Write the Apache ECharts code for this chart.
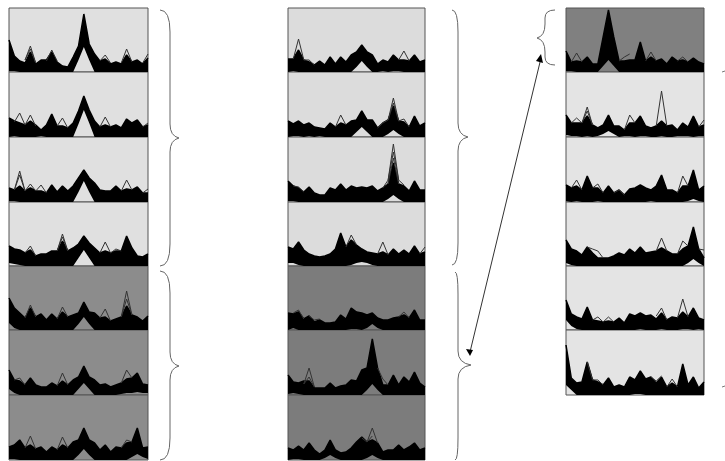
<!DOCTYPE html>
<html><head><meta charset="utf-8">
<style>html,body{margin:0;padding:0;background:#fff}#c{width:725px;height:461px}</style>
<script src="https://cdn.jsdelivr.net/npm/echarts@6/dist/echarts.min.js"></script>
</head><body><div id="c"></div>
<script>
// Upper / lower edges of the dense bundle of traces in each panel (height units), 27 samples per panel.
const samples=['s0','s1','s2','s3','s4','s5','s6','s7','s8','s9','s10','s11','s12','s13','s14','s15','s16','s17','s18','s19','s20','s21','s22','s23','s24','s25','s26'];
const upperA1=[32,16,11,9,20,8,12,12,20,10,6,5,15,26,58,28,18,11,13,8,10,8,17,10,12,8,14];
const lowerA1=[1,1,0,0,0,0,0,0,0,0,0,0,0,12,25,12,0,0,0,0,0,0,0,0,0,0,0];
const upperA2=[19,16,14,12,16,12,7,12,23,11,11,9,14,26,41,27,16,10,12,10,12,9,18,14,17,10,12];
const lowerA2=[0,1,0,0,0,0,1,0,0,0,0,0,0,13,27,14,0,0,0,0,0,0,0,0,0,0,0];
const upperA3=[14,12,16,11,14,11,11,9,17,10,16,11,16,24,32,24,19,12,11,11,16,11,13,12,15,9,9];
const lowerA3=[1,1,0,0,0,0,0,0,0,0,0,0,0,10,21,10,0,0,0,0,0,0,0,0,0,0,0];
const upperA4=[20,17,16,13,16,10,12,12,15,15,25,15,18,22,30,23,18,13,15,13,15,15,30,18,10,9,12];
const lowerA4=[3,2,1,0,0,0,0,0,0,0,0,0,0,8,16,8,0,0,0,0,0,0,0,0,0,0,0];
const upperA5=[32,22,17,12,22,13,16,10,16,11,18,13,15,17,28,18,17,12,13,9,11,13,24,15,13,9,14];
const lowerA5=[7,2,0,0,0,0,0,0,0,0,0,0,0,6,13,6,0,0,0,0,0,0,0,0,0,0,0];
const upperA6=[25,15,14,10,17,10,8,8,12,9,14,10,15,18,29,18,15,10,11,8,10,12,16,17,22,11,10];
const lowerA6=[6,2,0,0,0,0,0,0,0,0,0,0,0,6,12,6,0,0,0,0,0,1,2,2,3,2,2];
const upperA7=[13,15,20,12,15,11,13,8,13,10,15,12,18,20,32,20,17,10,15,8,13,12,17,18,32,12,13];
const lowerA7=[1,1,0,0,0,0,0,0,0,0,0,0,0,5,11,5,0,0,0,0,0,0,0,3,6,3,1];
const upperB1=[13,13,22,12,10,7,11,7,15,8,15,10,17,20,27,20,17,8,12,10,17,12,12,11,17,10,12];
const lowerB1=[0,1,0,0,0,0,0,0,0,0,0,0,0,5,11,5,0,0,1,0,1,1,0,0,0,0,0];
const upperB2=[16,13,16,12,14,10,9,8,14,10,14,12,16,17,26,17,17,9,14,17,31,16,15,10,21,11,14];
const lowerB2=[0,1,1,0,1,0,1,0,0,0,0,0,0,5,10,5,0,0,0,3,7,3,0,0,0,0,0];
const upperB3=[21,16,14,10,15,9,7,7,14,12,18,12,16,14,15,14,16,11,14,18,39,18,16,11,21,12,12];
const lowerB3=[1,1,0,0,0,0,0,0,0,0,0,0,0,0,0,0,0,0,0,3,7,3,0,0,0,0,0];
const upperB4=[19,17,24,16,12,10,9,10,12,17,33,19,26,21,17,14,13,12,14,11,17,12,16,12,20,12,14];
const lowerB4=[3,3,1,0,0,0,0,0,0,0,0,0,1,3,4,3,1,0,0,0,0,0,0,0,0,0,0];
const upperB5=[17,16,18,11,14,8,10,7,7,8,15,11,22,18,17,15,17,12,10,10,12,13,15,12,20,10,10];
const lowerB5=[0,2,0,0,0,0,0,0,0,0,0,0,1,1,0,2,6,2,0,0,0,0,0,0,0,0,0];
const upperB6=[20,13,12,14,14,7,7,7,12,7,9,10,15,14,25,27,56,27,10,10,20,10,18,13,23,12,8];
const lowerB6=[1,2,1,0,0,0,0,0,0,0,0,0,0,0,0,5,11,5,0,0,0,0,0,0,0,0,0];
const upperB7=[12,10,14,10,17,10,6,10,20,10,7,8,12,18,23,18,20,17,8,10,10,15,10,13,17,10,12];
const lowerB7=[0,1,1,0,0,0,0,2,5,2,0,0,0,0,0,2,5,2,0,0,0,0,0,0,0,0,0];
const upperC1=[21,10,11,10,15,8,8,35,62,35,11,11,12,12,30,11,15,11,13,8,15,11,12,10,14,10,8];
const lowerC1=[1,1,0,0,0,0,0,6,12,6,0,0,0,0,0,0,0,0,0,0,0,0,0,0,0,0,0];
const upperC2=[22,14,14,14,21,12,9,12,22,11,11,7,14,14,21,11,9,11,16,11,12,7,14,10,21,10,12];
const lowerC2=[2,1,1,0,1,0,1,3,6,3,0,1,1,0,1,1,0,0,1,0,0,1,1,1,0,1,1];
const upperC3=[17,14,16,12,26,14,14,9,16,9,12,7,13,14,17,14,12,16,27,12,12,9,16,16,32,12,16];
const lowerC3=[1,0,1,0,0,0,1,0,0,0,0,0,0,0,0,0,1,0,0,0,0,0,0,1,3,1,0];
const upperC4=[26,17,15,11,19,13,8,8,8,10,13,11,17,13,19,13,14,15,18,15,12,12,17,20,39,17,8];
const lowerC4=[3,1,0,0,0,0,0,0,0,0,0,0,0,0,0,0,0,0,0,0,0,0,0,3,7,3,0];
const upperC5=[30,16,13,11,23,10,9,8,9,8,12,7,16,14,17,14,15,11,17,10,13,12,18,13,22,12,10];
const lowerC5=[10,4,1,0,0,0,0,0,0,0,0,0,0,0,1,0,0,0,1,0,0,0,1,1,0,1,0];
const upperC6=[50,17,12,13,33,15,13,10,17,8,10,8,18,15,24,16,18,12,18,8,12,8,31,10,18,7,13];
const lowerC6=[10,5,0,0,0,0,0,0,0,0,0,0,0,1,1,0,0,0,0,0,0,0,0,0,0,0,0];

// Individual traces that rise out of the bundle: [sample, height] pairs.
const tracesA1=[[[3,12],[4,26],[5,9]],[[3,12],[4,23],[5,9]],[[7,11],[8,22],[9,11]],[[21,9],[22,23],[23,10]],[[17,11],[18,17],[19,9]],[[25,9],[26,18]]];
const tracesA2=[[[1,15],[2,24],[3,12]],[[3,12],[4,22],[5,11]],[[9,11],[10,19],[11,9]],[[17,10],[18,20],[19,10]],[[25,10],[26,14]]];
const tracesA3=[[[1,12],[2,31],[3,11]],[[1,12],[2,27],[3,11]],[[3,11],[4,18],[5,11]],[[5,11],[6,17],[7,9]],[[21,11],[22,22],[23,12]],[[25,9],[26,13]]];
const tracesA4=[[[9,15],[10,32],[11,15]],[[9,15],[10,29],[11,15]],[[3,13],[4,20],[5,10]],[[17,13],[18,24],[19,13]],[[19,13],[20,17],[21,15]]];
const tracesA5=[[[21,13],[22,39],[23,15]],[[21,13],[22,31],[23,15]],[[9,11],[10,23],[11,13]],[[17,12],[18,21],[19,9]],[[3,12],[4,25],[5,13]]];
const tracesA6=[[[9,9],[10,22],[11,10]],[[21,12],[22,25],[23,17]],[[1,15],[2,17],[3,10]]];
const tracesA7=[[[3,12],[4,24],[5,11]],[[9,10],[10,23],[11,12]],[[21,12],[22,20],[23,18]]];
const tracesB1=[[[1,13],[2,33],[3,12]],[[21,12],[22,21],[23,11]],[[3,12],[4,12],[5,7]]];
const tracesB2=[[[9,10],[10,22],[11,12]],[[19,17],[20,39],[21,16]],[[19,17],[20,34],[21,16]],[[17,9],[18,14],[19,17]],[[21,16],[22,18],[23,10]]];
const tracesB3=[[[18,14],[19,22],[20,58],[21,22],[22,17]],[[19,22],[20,50],[21,22]],[[19,18],[20,44],[21,18]],[[1,16],[2,15],[3,10]]];
const tracesB4=[[[17,12],[18,24],[19,11]],[[11,19],[12,31],[13,21]],[[25,12],[26,19]]];
const tracesB5=[[[21,13],[22,18],[23,12]],[[1,17],[2,20],[3,11]],[[4,14],[5,10],[6,11]]];
const tracesB6=[[[3,11],[4,27],[5,8]],[[3,11],[4,18],[5,8]],[[17,27],[18,16],[19,10]]];
const tracesB7=[[[15,18],[16,32],[17,17]],[[14,22],[15,18],[16,24]]];
const tracesC1=[[[1,10],[2,19],[3,10]],[[15,11],[16,20],[17,11]],[[21,11],[22,15],[23,10]],[[10,11],[11,15],[12,18]]];
const tracesC2=[[[3,14],[4,30],[5,12]],[[3,14],[4,26],[5,12]],[[1,14],[2,19],[3,14]],[[11,7],[12,22],[13,14]],[[17,11],[18,46],[19,11]],[[25,10],[26,17]]];
const tracesC3=[[[1,14],[2,22],[3,12]],[[21,9],[22,26],[23,16]],[[5,14],[6,18],[7,9]],[[9,9],[10,12],[11,7]]];
const tracesC4=[[[17,15],[18,28],[19,15]],[[21,12],[22,25],[23,20]],[[4,19],[5,17],[6,15],[7,8]],[[25,17],[26,16]]];
const tracesC5=[[[17,14],[18,22],[19,10]],[[21,12],[22,31],[23,13]],[[5,10],[6,13],[7,8]],[[7,8],[8,13],[9,8]]];
const tracesC6=[[[4,33],[5,15],[6,15],[7,10]],[[19,8],[20,16],[21,8]],[[16,18],[17,14],[18,19]]];

const panels=[
 ['A1',upperA1,lowerA1,tracesA1,'#e0e0e0'],['A2',upperA2,lowerA2,tracesA2,'#e0e0e0'],['A3',upperA3,lowerA3,tracesA3,'#e0e0e0'],['A4',upperA4,lowerA4,tracesA4,'#e0e0e0'],
 ['A5',upperA5,lowerA5,tracesA5,'#8c8c8c'],['A6',upperA6,lowerA6,tracesA6,'#8c8c8c'],['A7',upperA7,lowerA7,tracesA7,'#8c8c8c'],
 ['B1',upperB1,lowerB1,tracesB1,'#dcdcdc'],['B2',upperB2,lowerB2,tracesB2,'#dcdcdc'],['B3',upperB3,lowerB3,tracesB3,'#dcdcdc'],['B4',upperB4,lowerB4,tracesB4,'#dcdcdc'],
 ['B5',upperB5,lowerB5,tracesB5,'#7c7c7c'],['B6',upperB6,lowerB6,tracesB6,'#7c7c7c'],['B7',upperB7,lowerB7,tracesB7,'#7c7c7c'],
 ['C1',upperC1,lowerC1,tracesC1,'#808080'],['C2',upperC2,lowerC2,tracesC2,'#e4e4e4'],['C3',upperC3,lowerC3,tracesC3,'#e4e4e4'],['C4',upperC4,lowerC4,tracesC4,'#e4e4e4'],['C5',upperC5,lowerC5,tracesC5,'#e4e4e4'],['C6',upperC6,lowerC6,tracesC6,'#e4e4e4']
];
const rowTops=[8,72,137,202,266,330,395];
const rowHeights=[64,65,65,64,64,65,65];
const colLeft={A:9,B:288,C:566};
const colWidth={A:139,B:137,C:138};

const grid=[],xAxis=[],yAxis=[],series=[];
panels.forEach(([id,up,lo,traces,bg],k)=>{
  const col=id[0],row=+id[1]-1;
  grid.push({left:colLeft[col],top:rowTops[row],width:colWidth[col],height:rowHeights[row],show:true,backgroundColor:bg,borderColor:'#555',borderWidth:1,containLabel:false});
  xAxis.push({type:'category',data:samples,boundaryGap:false,gridIndex:k,show:false});
  yAxis.push({type:'value',gridIndex:k,min:0,max:rowHeights[row],show:false});
  const base={type:'line',xAxisIndex:k,yAxisIndex:k,symbol:'none',silent:true,animation:false,stack:'s'+id};
  series.push({...base,data:lo.slice(),lineStyle:{width:0,opacity:0}});
  series.push({...base,data:up.map((v,i)=>v-lo[i]),lineStyle:{width:1.5,color:'#000'},areaStyle:{color:'#000',opacity:1}});
  traces.forEach(t=>series.push({type:'line',xAxisIndex:k,yAxisIndex:k,symbol:'none',silent:true,animation:false,data:t,lineStyle:{width:1,color:'#333'}}));
});

const braceStyle={fill:'none',stroke:'#666',lineWidth:1};
function curve(x1,y1,cx,cy,x2,y2){return {type:'bezierCurve',silent:true,shape:{x1,y1,x2,y2,cpx1:cx,cpy1:cy},style:braceStyle};}
function seg(x1,y1,x2,y2){return {type:'line',silent:true,shape:{x1,y1,x2,y2},style:braceStyle};}
function brace(x0,xs,xa,y0,ym,y1,r){
  return [curve(x0,y0,xs,y0,xs,y0+r),seg(xs,y0+r,xs,ym-14),curve(xs,ym-14,xs,ym-2,xa,ym),
          curve(xa,ym,xs,ym+2,xs,ym+14),seg(xs,ym+14,xs,y1-r),curve(xs,y1-r,xs,y1,x0,y1)];
}
const annotations=[
  ...brace(160,170,179,10,138,266,22),...brace(160,170,179,271,366,460,22),
  ...brace(452,458,468,10,137,265,22),...brace(455,458,471,272,365,460,22),
  ...brace(555,545,537,10,38,65,8),
  {type:'line',silent:true,shape:{x1:470,y1:352,x2:541,y2:58},style:{stroke:'#333',lineWidth:1}},
  {type:'polygon',silent:true,shape:{points:[[541,54],[536,61],[543,63]]},style:{fill:'#000'}},
  {type:'polygon',silent:true,shape:{points:[[470,356],[466,349],[473,350]]},style:{fill:'#000'}},
  {type:'line',silent:true,shape:{x1:722,y1:72,x2:725,y2:71},style:{stroke:'#777',lineWidth:1}},
  {type:'line',silent:true,shape:{x1:722,y1:387,x2:725,y2:386},style:{stroke:'#777',lineWidth:1}}
];

const chart=echarts.init(document.getElementById('c'),null,{renderer:'canvas'});
chart.setOption({animation:false,backgroundColor:'#fff',tooltip:{show:false},grid,xAxis,yAxis,series,graphic:annotations});
</script></body></html>
